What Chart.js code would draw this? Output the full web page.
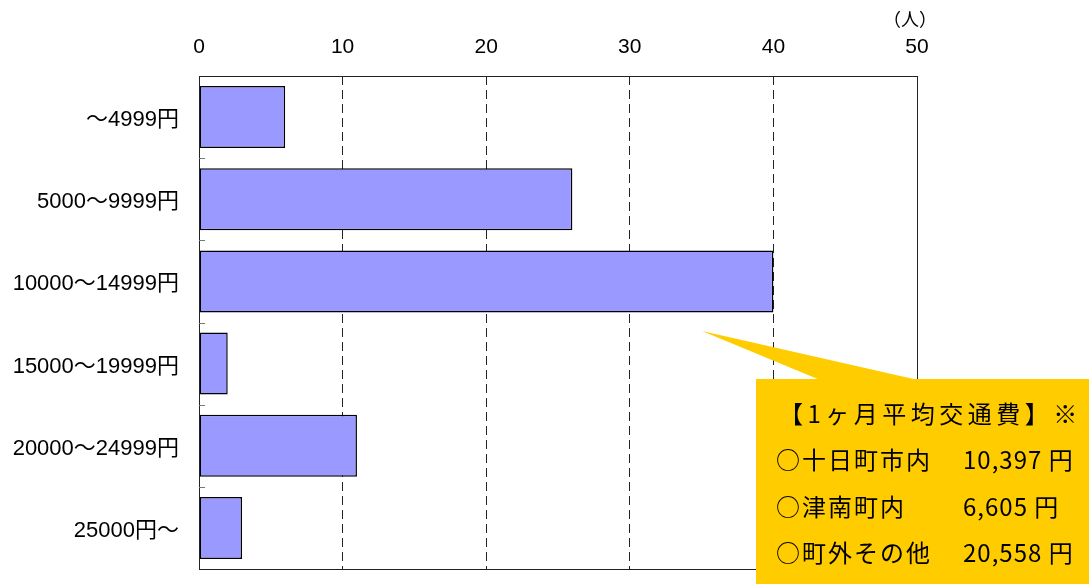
<!DOCTYPE html>
<html>
<head>
<meta charset="utf-8">
<script src="https://cdn.jsdelivr.net/npm/chart.js@4.4.1/dist/chart.umd.min.js"></script>
<style>
  html, body { margin: 0; padding: 0; background: #fff; }
  canvas { display: block; }
</style>
</head>
<body>
<canvas id="chart" width="1089" height="584"></canvas>
<script>
// 通勤交通費（月額）の分布
const categories = ['～4999円', '5000～9999円', '10000～14999円', '15000～19999円', '20000～24999円', '25000円～'];
const counts = [6, 26, 40, 2, 11, 3];
const xTicks = [0, 10, 20, 30, 40, 50];
const unitLabel = '（人）';

// 吹き出し内の平均交通費
const noteTitle = '【1ヶ月平均交通費】※';
const noteAreas = ['○十日町市内', '○津南町内', '○町外その他'];
const noteCosts = ['10,397 円', '6,605 円', '20,558 円'];

const LABEL_FONT = '"Liberation Sans", "Noto Sans CJK JP", sans-serif';
const NOTE_FONT = '"Noto Sans CJK JP", sans-serif';

// プロット枠と区分境界の目盛り
const framePlugin = {
  id: 'frame',
  afterDatasetsDraw(chart) {
    const { ctx, chartArea: a, scales: { y } } = chart;
    ctx.save();
    ctx.strokeStyle = '#222';
    ctx.lineWidth = 1;
    ctx.strokeRect(Math.round(a.left) + 0.5, Math.round(a.top) + 0.5,
                   Math.round(a.right - a.left), Math.round(a.bottom - a.top));
    ctx.strokeStyle = '#777';
    for (let i = 1; i < categories.length; i++) {
      const yy = Math.round((y.getPixelForValue(i - 1) + y.getPixelForValue(i)) / 2) + 0.5;
      ctx.beginPath();
      ctx.moveTo(a.left, yy);
      ctx.lineTo(a.left + 6, yy);
      ctx.stroke();
    }
    ctx.restore();
  }
};

// 単位表示と平均交通費の吹き出し
const notePlugin = {
  id: 'note',
  afterDraw(chart) {
    const { ctx, chartArea: a } = chart;
    ctx.save();
    ctx.fillStyle = '#000';
    ctx.font = '18px ' + NOTE_FONT;
    ctx.textAlign = 'center';
    ctx.textBaseline = 'middle';
    ctx.fillText(unitLabel, a.right - 7, 19);

    const boxL = 756, boxT = 379;
    ctx.fillStyle = '#FFCC00';
    ctx.beginPath();
    ctx.moveTo(702, 331);
    ctx.lineTo(820, boxT + 1);
    ctx.lineTo(a.right + 1, boxT + 1);
    ctx.closePath();
    ctx.fill();
    ctx.fillRect(boxL, boxT, chart.width - boxL, chart.height - boxT);

    ctx.fillStyle = '#000';
    ctx.textAlign = 'left';
    ctx.textBaseline = 'middle';
    ctx.font = '24px ' + NOTE_FONT;
    ctx.letterSpacing = '4.5px';
    ctx.fillText(noteTitle, 779, 414);
    for (let i = 0; i < noteAreas.length; i++) {
      const yy = 460 + i * 46.5;
      ctx.letterSpacing = '2px';
      ctx.fillText(noteAreas[i], 776, yy);
      ctx.letterSpacing = '1px';
      ctx.fillText(noteCosts[i], 963, yy);
    }
    ctx.restore();
  }
};

new Chart(document.getElementById('chart'), {
  type: 'bar',
  data: {
    labels: categories,
    datasets: [{
      data: counts,
      backgroundColor: '#9999FF',
      borderColor: '#000',
      borderWidth: 1.5,
      borderSkipped: false,
      barPercentage: 0.755,
      categoryPercentage: 1
    }]
  },
  options: {
    indexAxis: 'y',
    responsive: false,
    animation: false,
    events: [],
    layout: { padding: { left: 0, top: 0, right: 172, bottom: 15 } },
    plugins: { legend: { display: false }, tooltip: { enabled: false } },
    scales: {
      x: {
        position: 'top',
        min: xTicks[0],
        max: xTicks[xTicks.length - 1],
        afterBuildTicks(scale) { scale.ticks = xTicks.map(v => ({ value: v })); },
        afterFit(scale) { scale.height = 76; },
        ticks: {
          color: '#000',
          padding: 16,
          maxRotation: 0,
          font: { family: LABEL_FONT, size: 21 }
        },
        grid: { color: '#222', lineWidth: 1, drawTicks: false },
        border: { display: false, dash: [9, 5] }
      },
      y: {
        afterFit(scale) {
          scale.width = 199;
          scale.paddingTop = 0;
          scale.paddingBottom = 0;
        },
        ticks: {
          color: '#000',
          padding: 12,
          labelOffset: 3,
          font: { family: LABEL_FONT, size: 22 }
        },
        grid: { display: false },
        border: { display: false }
      }
    }
  },
  plugins: [framePlugin, notePlugin]
});
</script>
</body>
</html>
